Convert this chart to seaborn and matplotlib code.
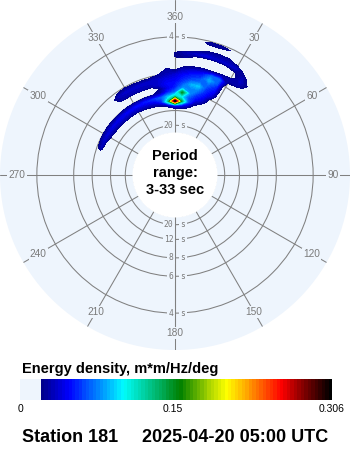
import numpy as np
import matplotlib
matplotlib.use("Agg")
import matplotlib.pyplot as plt
import matplotlib.transforms as mtransforms
from matplotlib.colors import LinearSegmentedColormap, ListedColormap, Normalize
from matplotlib.cm import ScalarMappable
from matplotlib.patches import Circle
import seaborn as sns

# Directional wave spectrum: energy density (m*m/Hz/deg),
# rows follow freqs_hz, columns follow directions_deg (compass, -75 == 285).
freqs_hz = [0.085, 0.095, 0.105, 0.115, 0.125, 0.135, 0.145, 0.155, 0.165,
            0.175, 0.185, 0.195, 0.205, 0.215, 0.225, 0.235, 0.245, 0.255]
directions_deg = [-75, -70, -65, -60, -55, -50, -45, -40, -35, -30, -25, -20, -15,
                  -10, -5, 0, 5, 10, 15, 20, 25, 30, 35, 40, 45]
energy = [
    # -75   -70    -65    -60    -55    -50    -45    -40    -35    -30    -25    -20    -15    -10    -5     0      5      10     15     20     25     30     35     40     45
    [0,     0,     0,     0,     0,     0,     0,     0,     0,     0,     0,     0,     0,     0,     0.003, 0.006, 0.005, 0.004, 0,     0,     0,     0,     0,     0,     0],  # 0.085
    [0,     0,     0,     0,     0,     0,     0,     0,     0,     0,     0.007, 0.012, 0.014, 0.017, 0.030, 0.050, 0.045, 0.030, 0.012, 0,     0,     0,     0,     0,     0],  # 0.095
    [0,     0,     0.008, 0.019, 0.022, 0.024, 0.026, 0.027, 0.028, 0.029, 0.031, 0.033, 0.038, 0.055, 0.130, 0.306, 0.140, 0.065, 0.030, 0.015, 0,     0,     0,     0,     0],  # 0.105
    [0,     0.030, 0.035, 0.038, 0.040, 0.042, 0.043, 0.044, 0.046, 0.048, 0.050, 0.054, 0.060, 0.068, 0.090, 0.120, 0.095, 0.065, 0.050, 0.035, 0.010, 0,     0,     0,     0],  # 0.115
    [0,     0.017, 0.019, 0.020, 0.020, 0.020, 0.020, 0.020, 0.020, 0.020, 0.020, 0.020, 0.021, 0.030, 0.055, 0.070, 0.150, 0.080, 0.060, 0.048, 0.018, 0,     0,     0,     0],  # 0.125
    [0,     0,     0,     0,     0,     0,     0,     0,     0,     0,     0,     0,     0,     0.022, 0.042, 0.055, 0.080, 0.075, 0.075, 0.055, 0.038, 0,     0,     0,     0],  # 0.135
    [0,     0,     0,     0,     0,     0,     0,     0.010, 0.026, 0.028, 0.029, 0.030, 0.030, 0.038, 0.048, 0.050, 0.065, 0.085, 0.090, 0.060, 0.048, 0,     0,     0,     0],  # 0.145
    [0,     0,     0,     0,     0,     0,     0,     0.018, 0.033, 0.036, 0.036, 0.036, 0.037, 0.037, 0.042, 0.045, 0.055, 0.065, 0.070, 0.070, 0.055, 0,     0,     0,     0],  # 0.155
    [0,     0,     0,     0,     0,     0,     0,     0.010, 0.018, 0.020, 0.018, 0.017, 0.017, 0.025, 0.032, 0.038, 0.048, 0.055, 0.060, 0.085, 0.065, 0,     0,     0,     0],  # 0.165
    [0,     0,     0,     0,     0,     0,     0,     0,     0,     0,     0,     0,     0,     0,     0.028, 0.022, 0.035, 0.042, 0.048, 0.070, 0.070, 0.018, 0.010, 0,     0],  # 0.175
    [0,     0,     0,     0,     0,     0,     0,     0,     0,     0,     0,     0,     0,     0,     0.010, 0,     0.018, 0.022, 0.025, 0.024, 0.028, 0.030, 0.030, 0.012, 0],  # 0.185
    [0,     0,     0,     0,     0,     0,     0,     0,     0,     0,     0,     0,     0,     0,     0,     0,     0,     0,     0,     0,     0,     0.010, 0.035, 0.018, 0],  # 0.195
    [0,     0,     0,     0,     0,     0,     0,     0,     0,     0,     0,     0,     0,     0,     0,     0.021, 0.024, 0.010, 0,     0,     0.005, 0.018, 0.030, 0.008, 0],  # 0.205
    [0,     0,     0,     0,     0,     0,     0,     0,     0,     0,     0,     0,     0,     0,     0,     0.021, 0.030, 0.035, 0.040, 0.035, 0.035, 0.035, 0.015, 0,     0],  # 0.215
    [0,     0,     0,     0,     0,     0,     0,     0,     0,     0,     0,     0,     0,     0,     0,     0,     0.005, 0.015, 0.022, 0.025, 0.025, 0.012, 0,     0,     0],  # 0.225
    [0,     0,     0,     0,     0,     0,     0,     0,     0,     0,     0,     0,     0,     0,     0,     0,     0,     0,     0.010, 0.010, 0.005, 0,     0,     0,     0],  # 0.235
    [0,     0,     0,     0,     0,     0,     0,     0,     0,     0,     0,     0,     0,     0,     0,     0,     0,     0.012, 0.026, 0.026, 0.019, 0,     0,     0,     0],  # 0.245
    [0,     0,     0,     0,     0,     0,     0,     0,     0,     0,     0,     0,     0,     0,     0,     0,     0,     0,     0.008, 0.008, 0,     0,     0,     0,     0],  # 0.255
]

period_rings_s = [4, 6, 8, 12, 20]
top_ring_labels_s = [4, 20]
compass_deg = [0, 30, 60, 90, 120, 150, 180, 210, 240, 270, 300, 330]
compass_text = ["360", "30", "60", "90", "120", "150", "180", "210", "240", "270", "300", "330"]
period_min_s, period_max_s = 3, 33
energy_max = 0.306
energy_floor = 0.0204
cbar_ticks = [0, 0.15, 0.306]
cbar_ticklabels = ["0", "0.15", "0.306"]
cbar_title = "Energy density, m*m/Hz/deg"
station_text = "Station 181"
time_text = "2025-04-20 05:00 UTC"
center_text = "Period\nrange:\n3-33 sec"

# ---------------------------------------------------------------- style
sns.set_theme(style="white")
plt.rcParams["font.family"] = ["Liberation Sans", "DejaVu Sans"]

disc_color = "#EEF5FD"
grid_gray = "#808080"
label_gray = "#7a7a7a"

# colour scale: pale disc colour below the floor, then navy -> blue -> cyan ->
# green -> yellow -> red -> black in discrete steps
anchors = [(0.00, "#00008C"), (0.09, "#0000FF"), (0.19, "#0080FF"), (0.28, "#00FFFF"),
           (0.48, "#008000"), (0.57, "#99CC00"), (0.64, "#FFFF00"), (0.72, "#FF9900"),
           (0.83, "#FF0000"), (0.91, "#800000"), (1.00, "#000000")]
ramp = LinearSegmentedColormap.from_list("ramp", anchors)
n_steps = 90
n_floor = int(round(energy_floor / (energy_max / n_steps)))
ramp_colors = [ramp(x) for x in np.linspace(0, 1, n_steps - n_floor)]
palette = sns.color_palette([disc_color] * n_floor + ramp_colors)
cmap = ListedColormap(palette)
norm = Normalize(vmin=0, vmax=energy_max)
levels = np.linspace(energy_floor, energy_max, n_steps - n_floor + 1)

# ---------------------------------------------------------------- figure
fig = plt.figure(figsize=(3.5, 4.5), dpi=100)
fig.patch.set_facecolor("white")

ax = fig.add_axes([0, 100 / 450, 1, 350 / 450], projection="polar")
ax.set_facecolor(disc_color)
ax.patch.set_edgecolor("none")
ax.set_theta_zero_location("N")
ax.set_theta_direction(-1)
ax.set_ylim(1 / period_max_s, 1 / period_min_s)
ax.set_rorigin(-0.0624)
ax.set_thetagrids(compass_deg, labels=[""] * len(compass_deg))
ax.set_rgrids([1 / p for p in period_rings_s], labels=[""] * len(period_rings_s))
ax.set_axisbelow(True)
ax.grid(True, color=grid_gray, linewidth=0.75)
ax.tick_params(length=0, pad=0)
for name in ("polar", "inner", "start", "end"):
    if name in ax.spines:
        ax.spines[name].set_visible(False)

theta = np.deg2rad(directions_deg)
ax.contourf(theta, freqs_hz, np.array(energy), levels=levels, cmap=cmap, norm=norm,
            zorder=2)

# compass labels sitting on their spokes
label_r = 0.2948
for deg, txt in zip(compass_deg, compass_text):
    ax.text(np.deg2rad(deg), label_r, txt, ha="center", va="center", fontsize=7.3,
            color=label_gray, zorder=1,
            bbox=dict(boxstyle="square,pad=0.12", fc=disc_color, ec="none"))

# period ring labels: number left of the spoke, "s" right of it
num_tr = mtransforms.offset_copy(ax.transData, fig=fig, x=-1.5, y=0, units="dots")
s_tr = mtransforms.offset_copy(ax.transData, fig=fig, x=5.5, y=0, units="dots")
ring_box = dict(boxstyle="square,pad=0.15", fc=disc_color, ec="none")
for p in period_rings_s:
    spots = [np.pi] + ([0.0] if p in top_ring_labels_s else [])
    for th in spots:
        ax.text(th, 1 / p, str(p), transform=num_tr, ha="right", va="center",
                fontsize=5.8, family="DejaVu Sans Mono", color=label_gray,
                zorder=1, bbox=ring_box)
        ax.text(th, 1 / p, "s", transform=s_tr, ha="left", va="center",
                fontsize=5.8, family="DejaVu Sans Mono", color=label_gray,
                zorder=1, bbox=ring_box)
for th in (0.0, np.pi):
    ax.plot([th, th], [1 / period_max_s, 0.28], color=grid_gray, lw=0.75, zorder=1.5)

# plain white centre with the period range note
ax.add_patch(Circle((0.5, 0.5), 42.5 / 350, transform=ax.transAxes, facecolor="white",
                    edgecolor="none", zorder=3, clip_on=False))
fig.text(0.5, 1 - 173 / 450, center_text, ha="center", va="center", fontsize=10.5,
         fontweight="bold", color="black", linespacing=1.25, zorder=4)

# colour bar
cax = fig.add_axes([20 / 350, 50 / 450, 312 / 350, 21 / 450])
cb = fig.colorbar(ScalarMappable(norm=norm, cmap=cmap), cax=cax,
                  orientation="horizontal", ticks=cbar_ticks)
cb.outline.set_visible(False)
cb.set_ticklabels(cbar_ticklabels)
cax.tick_params(length=0, pad=3, labelsize=7.5, colors="black")

fig.text(22 / 350, 1 - 369 / 450, cbar_title, ha="left", va="center", fontsize=10.5,
         fontweight="bold", color="black")
fig.text(22 / 350, 1 - 438 / 450, station_text, ha="left", va="center", fontsize=13,
         fontweight="bold", color="black")
fig.text(328 / 350, 1 - 438 / 450, time_text, ha="right", va="center", fontsize=13,
         fontweight="bold", color="black")

fig.savefig("out.png", dpi=100, facecolor="white")
